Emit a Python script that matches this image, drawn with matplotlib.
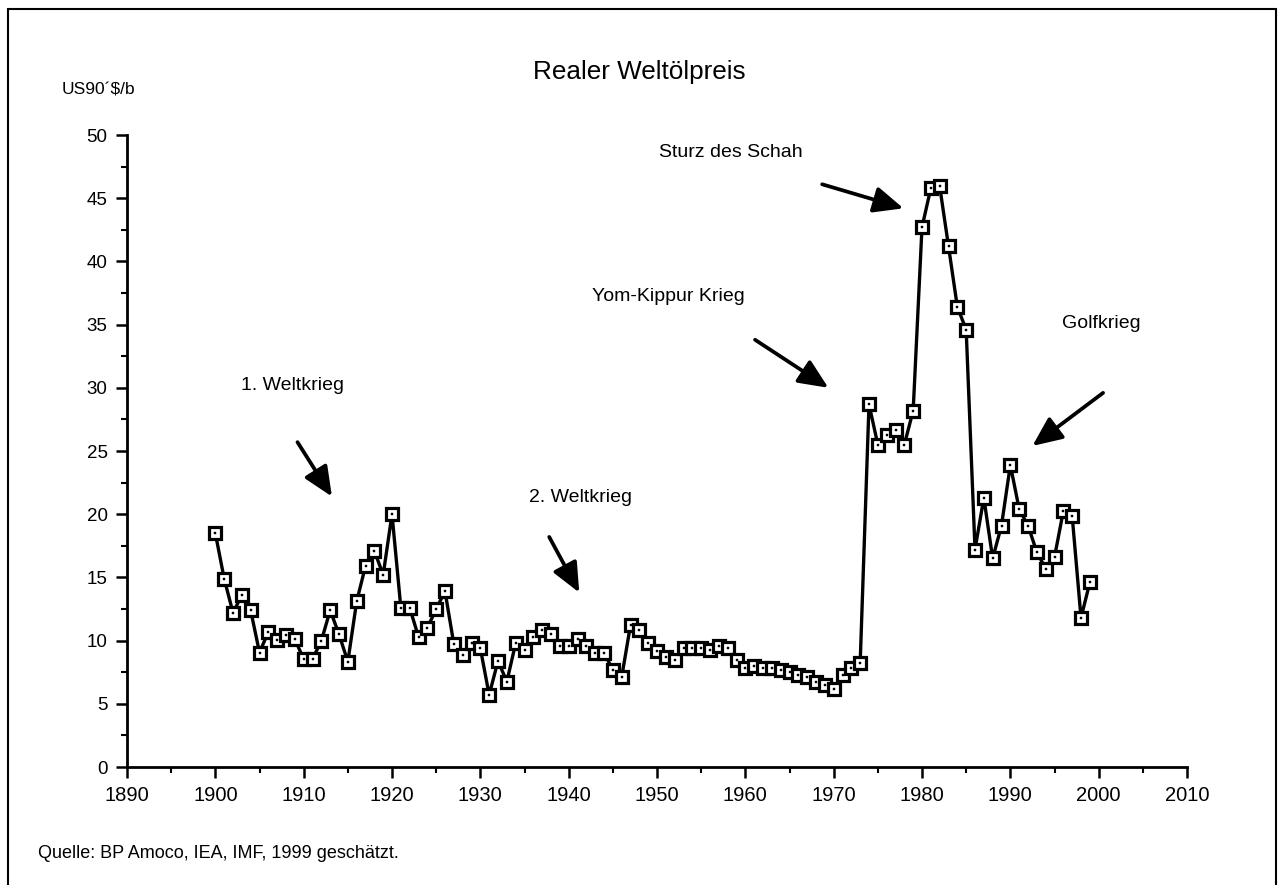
import matplotlib
matplotlib.use("Agg")
import matplotlib.pyplot as plt
from matplotlib.patches import Rectangle
from matplotlib.ticker import MultipleLocator

plt.rcParams['font.family'] = ['Liberation Sans', 'DejaVu Sans']

years = list(range(1900, 2000))
prices = [
    18.5, 14.9, 12.2, 13.6, 12.4, 9.05, 10.7, 10.05, 10.44, 10.13,   # 1900-1909
    8.52, 8.55, 9.97, 12.4, 10.5, 8.33, 13.1, 15.9, 17.1, 15.2,      # 1910-1919
    20.0, 12.6, 12.6, 10.3, 11.0, 12.5, 13.9, 9.73, 8.9, 9.83,       # 1920-1929
    9.4, 5.7, 8.4, 6.75, 9.8, 9.26, 10.3, 10.84, 10.5, 9.57,         # 1930-1939
    9.57, 10.1, 9.57, 9.05, 9.05, 7.67, 7.1, 11.23, 10.84, 9.8,      # 1940-1949
    9.2, 8.68, 8.47, 9.39, 9.39, 9.39, 9.26, 9.6, 9.39, 8.5,         # 1950-1959
    7.8, 7.99, 7.86, 7.86, 7.67, 7.5, 7.3, 7.1, 6.7, 6.5,            # 1960-1969
    6.2, 7.3, 7.8, 8.2, 28.7, 25.5, 26.3, 26.7, 25.5, 28.2,          # 1970-1979
    42.7, 45.8, 45.96, 41.2, 36.4, 34.6, 17.2, 21.3, 16.5, 19.1,     # 1980-1989
    23.9, 20.4, 19.1, 17.0, 15.7, 16.6, 20.25, 19.86, 11.8, 14.6,    # 1990-1999
]

x_ticks = [1890, 1900, 1910, 1920, 1930, 1940, 1950, 1960, 1970, 1980, 1990, 2000, 2010]
y_ticks = [0, 5, 10, 15, 20, 25, 30, 35, 40, 45, 50]

title = "Realer Weltölpreis"
unit_label = "US90´$/b"
source = "Quelle: BP Amoco, IEA, IMF, 1999 geschätzt."

events = ["1. Weltkrieg", "2. Weltkrieg", "Yom-Kippur Krieg", "Sturz des Schah", "Golfkrieg"]
event_text_xy = [(1908.7, 30.2), (1941.3, 21.3), (1951.25, 37.2), (1958.3, 48.6), (2000.3, 35.1)]
arrow_start = [(1909.3, 25.7), (1937.8, 18.2), (1961.1, 33.8), (1968.7, 46.1), (2000.5, 29.6)]
arrow_end = [(1913.2, 21.4), (1941.2, 13.8), (1969.4, 30.0), (1977.9, 44.2), (1992.5, 25.4)]

W, H = 1278, 885
fig = plt.figure(figsize=(W / 100, H / 100), dpi=100)
ax = fig.add_axes([127 / W, (H - 767) / H, 1060 / W, (767 - 135) / H])

ax.plot(years, prices, color='black', lw=2.4, zorder=2)
ax.plot(years, prices, ls='none', marker='s', ms=8.5, mfc='white', mec='black', mew=2.3, zorder=3)
ax.plot(years, prices, ls='none', marker='s', ms=1.8, mfc='black', mec='black', mew=0.3, zorder=4)

ax.set_xlim(1890, 2010)
ax.set_ylim(0, 50)
ax.set_xticks(x_ticks)
ax.set_yticks(y_ticks)
ax.xaxis.set_minor_locator(MultipleLocator(5))
ax.yaxis.set_minor_locator(MultipleLocator(2.5))
ax.tick_params(axis='both', which='major', direction='out', length=8, width=1.8, labelsize=13.5, pad=6)
ax.tick_params(axis='both', which='minor', direction='out', length=4, width=1.5)
for lab in ax.get_xticklabels():
    lab.set_fontsize(14.5)
for s in ['top', 'right']:
    ax.spines[s].set_visible(False)
for s in ['left', 'bottom']:
    ax.spines[s].set_linewidth(2.0)
ax.patch.set_alpha(0)

for txt, (tx, ty) in zip(events, event_text_xy):
    ax.text(tx, ty, txt, ha='center', va='center', fontsize=14)
for (sx, sy), (ex, ey) in zip(arrow_start, arrow_end):
    ax.annotate('', xy=(ex, ey), xytext=(sx, sy),
                arrowprops=dict(arrowstyle='-|>,head_length=0.9,head_width=0.4', lw=2.7,
                                color='black', shrinkA=0, shrinkB=0, mutation_scale=20))

fig.text(639 / W, 1 - 72 / H, title, ha='center', va='center', fontsize=18.8)
fig.text(62 / W, 1 - 90 / H, unit_label, ha='left', va='center', fontsize=12.5)
fig.text(38 / W, 1 - 854 / H, source, ha='left', va='center', fontsize=13)

fig.add_artist(Rectangle((8 / W, -0.05), (1276 - 8) / W, 1.05 - 9 / H,
                         transform=fig.transFigure, fill=False, ec='black', lw=1.5))

fig.savefig("out.png", dpi=100)
